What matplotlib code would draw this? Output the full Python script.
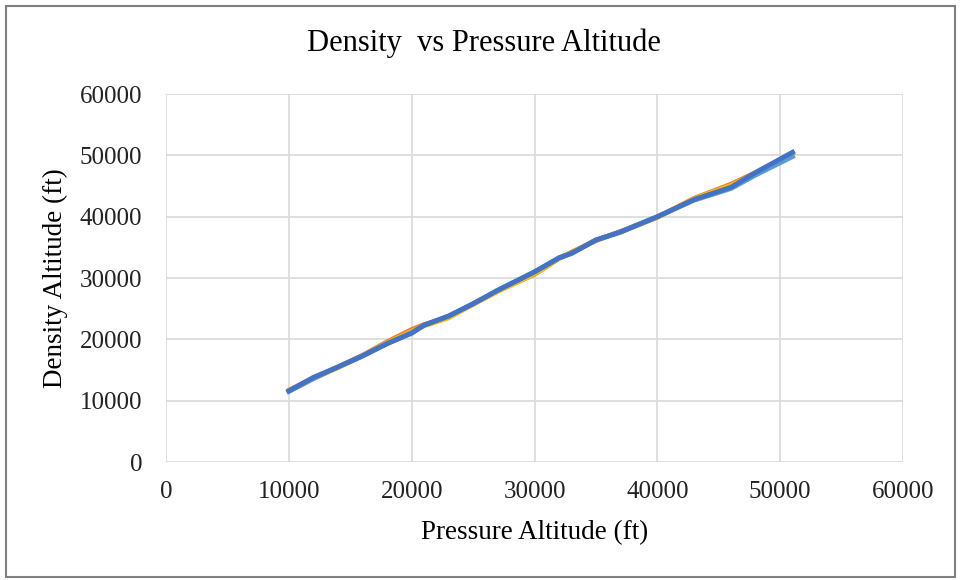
import matplotlib.pyplot as plt
from matplotlib.patches import Rectangle

# pressure altitude (ft) and density altitude (ft)
pressure_alt = [10000, 12000, 14000, 16000, 18000, 20000, 21000, 23000, 25000, 27000,
                30000, 32000, 33000, 35000, 37000, 40000, 43000, 46000, 48000, 51000]
density_orange = [11700, 13700, 15500, 17400, 19600, 21600, 22400, 23600, 25800, 27900,
                  30600, 33200, 34200, 36100, 37600, 39900, 43000, 45300, 47200, 50300]
density_yellow = [11600, 13600, 15400, 17300, 19400, 21300, 22200, 23500, 25700, 27800,
                  30700, 33200, 34100, 36200, 37500, 39900, 42900, 45100, 47000, 50200]
density_light = [11500, 13600, 15500, 17300, 19300, 21100, 22300, 23800, 25800, 28000,
                 31000, 33300, 34000, 36200, 37500, 40000, 42700, 44600, 46800, 49800]
density_blue = [11600, 13800, 15500, 17300, 19300, 21000, 22300, 23800, 25800, 28000,
                31000, 33300, 34000, 36200, 37500, 40000, 42800, 44800, 47200, 50500]

plt.rcParams['font.family'] = ['Liberation Serif', 'DejaVu Serif']

fig = plt.figure(figsize=(9.62, 5.8), dpi=100)
ax = fig.add_axes([0.1726, 0.2034, 0.7661, 0.6345])

ax.plot(pressure_alt, density_orange, color='#ED7D31', lw=3.5)
ax.plot(pressure_alt, density_yellow, color='#FFC000', lw=3.5)
ax.plot(pressure_alt, density_light, color='#5B9BD5', lw=3.5)
ax.plot(pressure_alt, density_blue, color='#4472C4', lw=3.5)

ax.set_xlim(0, 60000)
ax.set_ylim(0, 60000)
ax.set_xticks(range(0, 60001, 10000))
ax.set_yticks(range(0, 60001, 10000))
ax.grid(True, color='#D9D9D9', lw=1.2)
ax.set_axisbelow(True)
for s in ax.spines.values():
    s.set_visible(False)
ax.tick_params(length=0, labelsize=18, colors='#222222')
ax.tick_params(axis='y', pad=17)
ax.tick_params(axis='x', pad=14)

fig.text(0.5026, 0.926, 'Density  vs Pressure Altitude', fontsize=22,
         ha='center', va='center')
ax.set_xlabel('Pressure Altitude (ft)', fontsize=19.5)
ax.xaxis.set_label_coords(0.5, -0.193)
ax.xaxis.label.set_va('center')
ax.set_ylabel('Density Altitude (ft)', fontsize=19.5)
ax.yaxis.set_label_coords(-0.1506, 0.5)
ax.yaxis.label.set_va('center')

fig.patches.append(Rectangle((0.0062, 0.0052), 0.9865, 0.9845, transform=fig.transFigure,
                             fill=False, edgecolor='#7F7F7F', lw=1.5))

fig.savefig('out.png', dpi=100)
